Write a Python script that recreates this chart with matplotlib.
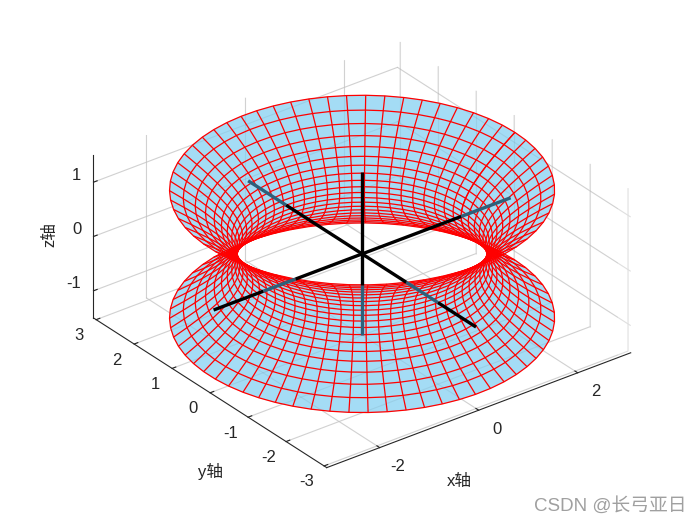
import numpy as np
import matplotlib
matplotlib.use('Agg')
import matplotlib.pyplot as plt
from mpl_toolkits.mplot3d import proj3d

plt.rcParams['font.family'] = ['Liberation Sans', 'Noto Sans CJK SC']

# hyperboloid parameters
waist_radius = 2
u_vals = np.arange(-10, 11) / 10
v_vals = np.linspace(0, 2 * np.pi, 64)

xy_lim = 3.07
z_lim = 1.5
x_ticks = [-2, 0, 2]
y_ticks = [-3, -2, -1, 0, 1, 2, 3]
z_ticks = [-1, 0, 1]

# black axis lines through the centre: start, end
axis_lines = [
    ((-3, 0, 0), (3, 0, 0)),
    ((0, -3, 0), (0, 3, 0)),
    ((0, 0, -1.5), (0, 0, 1.5)),
]

elev = 29.5
azim = -127.5
face_color = '#a4dcf5'
hidden_color = '#2d607a'
grid_color = '#dfdfdf'
dark = '#262626'
px = 0.72  # points per pixel at dpi 100


def hidden_mask(points):
    """True for points which have the surface between them and the viewer."""
    e, a = np.radians(elev), np.radians(azim)
    d = np.array([np.cos(e) * np.cos(a), np.cos(e) * np.sin(a), np.sin(e)])
    qa = d[0]**2 + d[1]**2 - 4 * d[2]**2
    x0, y0, z0 = points.T
    qb = 2 * (x0 * d[0] + y0 * d[1] - 4 * z0 * d[2])
    qc = x0**2 + y0**2 - 4 - 4 * z0**2
    disc = qb**2 - 4 * qa * qc
    mask = np.zeros(len(points), dtype=bool)
    ok = disc >= 0
    for sign in (-1, 1):
        t = np.full(len(points), -1.0)
        t[ok] = (-qb[ok] + sign * np.sqrt(disc[ok])) / (2 * qa)
        z_hit = z0 + t * d[2]
        mask |= (t > 1e-6) & (np.abs(z_hit) <= np.sinh(1))
    return mask


def tick_label(ax, text, pos, offset, ha='center'):
    xp, yp, _ = proj3d.proj_transform(*pos, ax.get_proj())
    ax.annotate(text, xy=(xp, yp), xytext=(offset[0] * px, offset[1] * px),
                textcoords='offset points', ha=ha, va='center', fontsize=12,
                color=dark, annotation_clip=False)


fig = plt.figure(figsize=(7, 5.25), dpi=100)
ax = fig.add_axes([5 / 700, 1.5 / 525, 1, 1], projection='3d', proj_type='ortho',
                  computed_zorder=False)
ax.view_init(elev=elev, azim=azim)
ax.set_xlim(-xy_lim, xy_lim, view_margin=0)
ax.set_ylim(-xy_lim, xy_lim, view_margin=0)
ax.set_zlim(-z_lim, z_lim, view_margin=0)
ax.set_box_aspect((2 * xy_lim, 2 * xy_lim, 2 * z_lim), zoom=1.06)

U, V = np.meshgrid(u_vals, v_vals)
X = waist_radius * np.cosh(U) * np.cos(V)
Y = waist_radius * np.cosh(U) * np.sin(V)
Z = np.sinh(U)

ax.plot_surface(X, Y, Z, rstride=1, cstride=1, color=face_color, shade=False,
                edgecolor=face_color, linewidth=0.3, zorder=1)

# the surface is see-through in the original, so the grid shows faintly on it
faint = dict(color='black', alpha=0.06, linewidth=0.8, zorder=1.5)
for xt in x_ticks:
    ax.plot([xt, xt], [-xy_lim, xy_lim], [-z_lim, -z_lim], **faint)
    ax.plot([xt, xt], [xy_lim, xy_lim], [-z_lim, z_lim], **faint)
for yt in y_ticks:
    ax.plot([-xy_lim, xy_lim], [yt, yt], [-z_lim, -z_lim], **faint)
    ax.plot([xy_lim, xy_lim], [yt, yt], [-z_lim, z_lim], **faint)
for zt in z_ticks:
    ax.plot([-xy_lim, xy_lim], [xy_lim, xy_lim], [zt, zt], **faint)
    ax.plot([xy_lim, xy_lim], [-xy_lim, xy_lim], [zt, zt], **faint)

ax.plot_wireframe(X, Y, Z, rstride=1, cstride=1, color='red', linewidth=0.9, zorder=2)

for start, end in axis_lines:
    pts = np.linspace(start, end, 801)
    hid = hidden_mask(pts)
    cuts = np.flatnonzero(np.diff(hid.astype(int))) + 1
    bounds = [0, *cuts, len(pts) - 1]
    for i0, i1 in zip(bounds[:-1], bounds[1:]):
        seg = pts[i0:i1 + 1]
        col = hidden_color if hid[i0 + (i1 - i0) // 2] else 'black'
        ax.plot(seg[:, 0], seg[:, 1], seg[:, 2], color=col, linewidth=2.4,
                solid_capstyle='butt', zorder=3)

ax.set_xticks(x_ticks)
ax.set_yticks(y_ticks)
ax.set_zticks(z_ticks)
ax.set_xticklabels([])
ax.set_yticklabels([])
ax.set_zticklabels([])

for axis in (ax.xaxis, ax.yaxis, ax.zaxis):
    axis.set_pane_color((1, 1, 1, 1))
    axis.pane.set_edgecolor('none')
    axis.line.set_color(dark)
    axis.line.set_linewidth(0.8)
    axis._axinfo['grid'].update(color=grid_color, linewidth=0.8)
    axis._axinfo['tick'].update(inward_factor=0.0, outward_factor=0.15,
                                linewidth={True: 0.8, False: 0.5}, color=dark)
    axis.set_tick_params(color=dark)

ax.zaxis.set_ticks_position('upper')

for xt in x_ticks:
    tick_label(ax, str(xt), (xt, -xy_lim, -z_lim), (18, -19))
for yt in y_ticks:
    tick_label(ax, str(yt), (-xy_lim, yt, -z_lim), (-17, -16))
for zt in z_ticks:
    tick_label(ax, str(zt), (-xy_lim, xy_lim, zt), (-12, 7), ha='right')

fig.text(459.5 / 700, 1 - 481 / 525, 'x轴', fontsize=12, color=dark, ha='center', va='center')
fig.text(210.5 / 700, 1 - 471 / 525, 'y轴', fontsize=12, color=dark, ha='center', va='center')
fig.text(50 / 700, 1 - 235 / 525, 'z轴', fontsize=12, color=dark, ha='center', va='center',
         rotation=90)
fig.text(687 / 700, 1 - 506 / 525, 'CSDN @长弓亚日', fontsize=13.5, color='#a0a0a0',
         ha='right', va='center')

fig.savefig('out.png', dpi=100)
